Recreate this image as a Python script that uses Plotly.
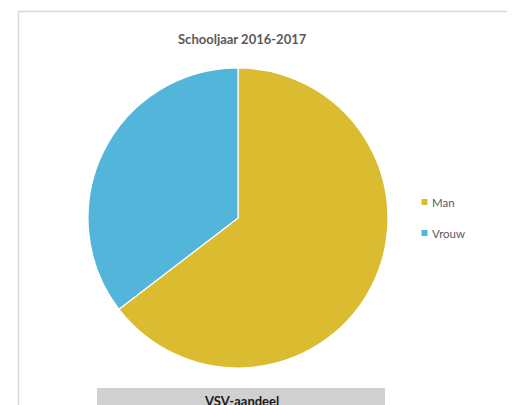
import plotly.graph_objects as go

labels = ["Man", "Vrouw"]
values = [64.6, 35.4]
colors = ["#DBBC30", "#53B5DA"]
title_text = "Schooljaar 2016-2017"
footer_text = "VSV-aandeel"

W, H = 515, 405
OFF = 8  # page offset of the figure inside the browser window
def px(x): return (x - OFF) / W
def py(y): return 1 - (y - OFF) / H

fig = go.Figure()
fig.add_trace(go.Pie(
    labels=labels, values=values, sort=False, direction="clockwise", rotation=0,
    marker=dict(colors=colors, line=dict(color="white", width=1.2)),
    textinfo="none", hoverinfo="label+percent", showlegend=False,
    domain=dict(x=[px(88), px(388)], y=[py(368), py(68)]),
))

shapes = [
    dict(type="line", xref="paper", yref="paper", x0=px(18), x1=1.02, y0=py(11.5), y1=py(11.5),
         line=dict(color="#D9D9D9", width=1.5)),
    dict(type="line", xref="paper", yref="paper", x0=px(18.5), x1=px(18.5), y0=py(11), y1=-0.02,
         line=dict(color="#D9D9D9", width=1.5)),
    dict(type="rect", xref="paper", yref="paper", x0=px(97), x1=px(385), y0=-0.02, y1=py(388),
         fillcolor="#D0D0D0", line=dict(width=0), layer="below"),
]
annotations = [
    dict(text="<b>" + title_text + "</b>", x=px(242), y=py(39.5), xref="paper", yref="paper",
         xanchor="center", yanchor="middle",
         showarrow=False, font=dict(family="Lato, sans-serif", size=13, color="#595959")),
    dict(text="<b>" + footer_text + "</b>", x=px(241), y=py(401), xref="paper", yref="paper",
         showarrow=False, xanchor="center", yanchor="middle",
         font=dict(family="Lato, sans-serif", size=13, color="#1A1A1A")),
]
# legend (drawn manually to match item spacing)
leg_y = [202, 233]
for lab, col, yy in zip(labels, colors, leg_y):
    shapes.append(dict(type="rect", xref="paper", yref="paper",
                       x0=px(421.5), x1=px(427.5), y0=py(yy + 3), y1=py(yy - 3),
                       fillcolor=col, line=dict(width=0)))
    annotations.append(dict(text=lab, x=px(429.5), y=py(yy + 0.5), xref="paper", yref="paper",
                            xanchor="left", yanchor="middle", showarrow=False,
                            font=dict(family="Lato, sans-serif", size=11.5, color="#595959")))

fig.update_layout(
    width=W, height=H, margin=dict(l=0, r=0, t=0, b=0),
    paper_bgcolor="white", plot_bgcolor="white",
    shapes=shapes, annotations=annotations,
)
fig.write_html("out.html")
